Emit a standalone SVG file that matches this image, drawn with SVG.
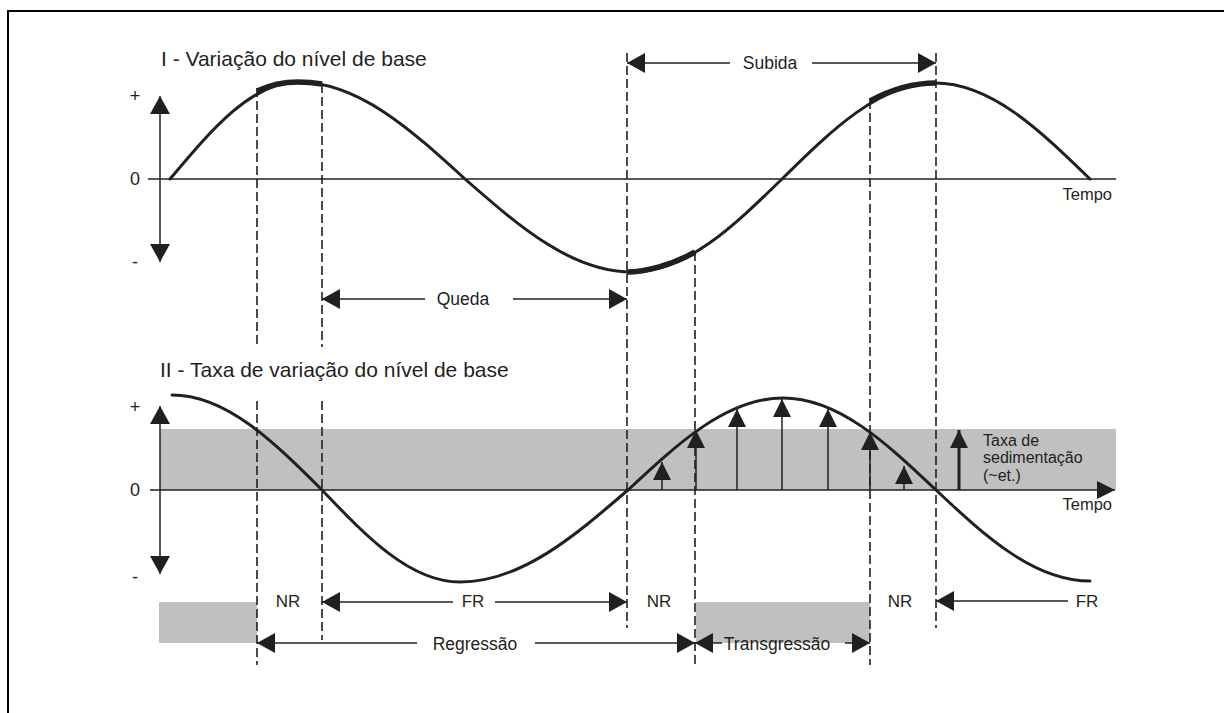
<svg xmlns="http://www.w3.org/2000/svg" width="1224" height="713" viewBox="0 0 1224 713">
<style>
text{font-family:"Liberation Sans",Arial,sans-serif;fill:#231f20}
.title{font-size:21px}
.lab{font-size:17.5px}
.sm{font-size:17px}
.sign{font-size:18px}
.leg{font-size:16px}
.ax{stroke:#231f20;stroke-width:1.5;fill:none}
.dash{stroke:#231f20;stroke-width:1.6;stroke-dasharray:9 4;fill:none}
.curve{stroke:#231f20;stroke-width:3;fill:none;stroke-linecap:round}
.thick{stroke:#231f20;stroke-width:5.5;fill:none}
.arr{stroke:#231f20;stroke-width:1.5;fill:none}
.gray{fill:#c0c0c0}
</style>
<defs>
<marker id="ah" markerUnits="userSpaceOnUse" markerWidth="18" markerHeight="20" viewBox="0 0 18 20" refX="18" refY="10" orient="auto-start-reverse">
<path d="M0,0 L18,10 L0,20 z" fill="#231f20"/>
</marker>
<marker id="ahs" markerUnits="userSpaceOnUse" markerWidth="18" markerHeight="18" viewBox="0 0 18 18" refX="18" refY="9" orient="auto-start-reverse">
<path d="M0,0 L18,9 L0,18 z" fill="#231f20"/>
</marker>
</defs>
<rect x="0" y="0" width="1224" height="713" fill="#fff"/>
<rect id="frame" x="8" y="11" width="1240" height="730" fill="none" stroke="#000" stroke-width="2"/>

<g id="bands">
<rect class="gray" x="160" y="429" width="956" height="61"/>
<rect class="gray" x="159" y="602" width="98" height="41"/>
<rect class="gray" x="696" y="602" width="174" height="41"/>
</g>

<g id="panel-I">
<text class="title" x="161" y="66">I - Variação do nível de base</text>
<line class="ax" x1="148" y1="179" x2="1116" y2="179"/>
<path class="ax" d="M160,179 L160,96" marker-end="url(#ah)"/>
<path class="ax" d="M160,179 L160,262" marker-end="url(#ah)"/>
<text class="sign" x="135" y="102" text-anchor="middle">+</text>
<text class="sign" x="135" y="185" text-anchor="middle">0</text>
<text class="sign" x="135" y="268" text-anchor="middle">-</text>
<text class="lab" x="1112" y="200" text-anchor="end" style="font-size:16.5px">Tempo</text>
<path class="curve" d="M170,179 C211.6,129.4 251.7,82 298,82 C358.5,82 410.7,129.4 465,179 C519.3,226.5 571.5,272 632,272 C686.3,272 733.3,226.5 782,179 C831.7,130 879.6,83 935,83 C991.1,83 1039.6,130 1090,179"/>
<path class="thick" d="M257,91 C272,84 286,82 298,82 C308,82 316,83 322,84"/>
<path class="thick" d="M627,272 C645,272 672,265 695,252"/>
<path class="thick" d="M870,101 C892,89 915,83 936,83"/>
</g>

<g id="panel-II">
<text class="title" x="160" y="377">II - Taxa de variação do nível de base</text>
<path class="ax" d="M150,490 L1115,490" marker-end="url(#ahs)"/>
<path class="ax" d="M160,490 L160,406" marker-end="url(#ah)"/>
<path class="ax" d="M160,490 L160,574" marker-end="url(#ah)"/>
<text class="sign" x="135" y="413" text-anchor="middle">+</text>
<text class="sign" x="135" y="496" text-anchor="middle">0</text>
<text class="sign" x="135" y="583" text-anchor="middle">-</text>
<text class="lab" x="1112" y="510" text-anchor="end" style="font-size:16.5px">Tempo</text>
<path class="curve" d="M172,395 C226.3,395 273.3,441.5 322,490 C366.9,537 410,582 460,582 C520.8,582 573.4,537 628,490 C678.4,443 726.9,398 783,398 C838.4,398 886.3,443 936,490 C986,537 1034.3,581 1090,581"/>
</g>

<g id="rate-arrows">
<path class="arr" d="M662,490 L662,462" marker-end="url(#ahs)"/>
<path class="arr" d="M696,490 L696,430" marker-end="url(#ahs)"/>
<path class="arr" d="M737,490 L737,409" marker-end="url(#ahs)"/>
<path class="arr" d="M782,490 L782,399" marker-end="url(#ahs)"/>
<path class="arr" d="M828,490 L828,409" marker-end="url(#ahs)"/>
<path class="arr" d="M870,490 L870,432" marker-end="url(#ahs)"/>
<path class="arr" d="M904,490 L904,466" marker-end="url(#ahs)"/>
</g>

<g id="legend">
<path class="arr" style="stroke-width:3" d="M959,490 L959,430" marker-end="url(#ahs)"/>
<text class="leg" x="983" y="446">Taxa de</text>
<text class="leg" x="983" y="463">sedimentação</text>
<text class="leg" x="983" y="481">(~et.)</text>
</g>

<g id="guides">
<line class="dash" x1="257" y1="88" x2="257" y2="347"/>
<line class="dash" x1="257" y1="401" x2="257" y2="665"/>
<line class="dash" x1="322" y1="84" x2="322" y2="347"/>
<line class="dash" x1="322" y1="401" x2="322" y2="640"/>
<line class="dash" x1="627" y1="53" x2="627" y2="628"/>
<line class="dash" x1="695" y1="252" x2="695" y2="665"/>
<line class="dash" x1="870" y1="100" x2="870" y2="665"/>
<line class="dash" x1="936" y1="53" x2="936" y2="628"/>
</g>

<g id="connectors">
<path class="arr" d="M730,63 L627,63" marker-end="url(#ah)"/>
<path class="arr" d="M812,63 L936,63" marker-end="url(#ah)"/>
<path class="arr" d="M425,299 L322,299" marker-end="url(#ah)"/>
<path class="arr" d="M513,299 L627,299" marker-end="url(#ah)"/>
<path class="arr" d="M453,602 L322,602" marker-end="url(#ah)"/>
<path class="arr" d="M495,602 L627,602" marker-end="url(#ah)"/>
<path class="arr" d="M1068,601 L936,601" marker-end="url(#ah)"/>
<path class="arr" d="M417,643 L257,643" marker-end="url(#ah)"/>
<path class="arr" d="M535,643 L695,643" marker-end="url(#ah)"/>
<path class="arr" d="M722,643 L695,643" marker-end="url(#ah)"/>
<path class="arr" d="M845,643 L870,643" marker-end="url(#ah)"/>
</g>

<g id="labels">
<text class="lab" x="770" y="69" text-anchor="middle">Subida</text>
<text class="lab" x="463" y="305" text-anchor="middle">Queda</text>
<text class="sm" x="288" y="607" text-anchor="middle">NR</text>
<text class="sm" x="473" y="607" text-anchor="middle">FR</text>
<text class="sm" x="659" y="607" text-anchor="middle">NR</text>
<text class="sm" x="900" y="607" text-anchor="middle">NR</text>
<text class="sm" x="1087" y="607" text-anchor="middle">FR</text>
<text class="lab" x="475" y="650" text-anchor="middle">Regressão</text>
<text class="lab" x="777" y="650" text-anchor="middle">Transgressão</text>
</g>
</svg>
